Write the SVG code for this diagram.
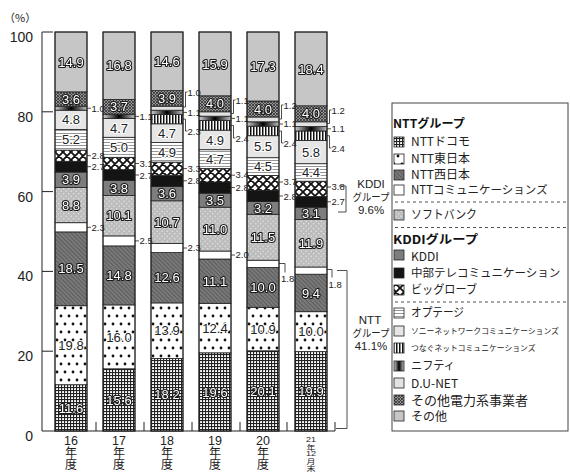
<svg xmlns="http://www.w3.org/2000/svg" width="570" height="472" viewBox="0 0 570 472">
<defs>
<filter id="flat" x="-10%" y="-10%" width="120%" height="120%"><feOffset dx="0" dy="0"/></filter>
<pattern id="pDoc" width="3" height="3" patternUnits="userSpaceOnUse"><rect width="3" height="3" fill="#fff"/><rect width="3" height="1.1" fill="#222"/><rect width="1.1" height="3" fill="#222"/></pattern>
<pattern id="pEast" width="8" height="16" patternUnits="userSpaceOnUse"><rect width="8" height="16" fill="#fff"/><circle cx="2" cy="4" r="1.4" fill="#111"/><circle cx="6" cy="12" r="1.4" fill="#111"/></pattern>
<pattern id="pWest" width="3" height="3" patternUnits="userSpaceOnUse" patternTransform="rotate(45)"><rect width="3" height="3" fill="#7c7c7c"/><rect width="3" height="1.2" fill="#5c5c5c"/></pattern>
<pattern id="pSB" width="5" height="5" patternUnits="userSpaceOnUse"><rect width="5" height="5" fill="#bdbdbd"/><circle cx="1.2" cy="1.2" r="0.8" fill="#e2e2e2"/><circle cx="3.7" cy="3.7" r="0.8" fill="#e2e2e2"/></pattern>
<pattern id="pBig" width="8" height="8" patternUnits="userSpaceOnUse"><rect width="8" height="8" fill="#fff"/><path d="M0,0L8,8M8,0L0,8M-1,7L1,9M7,-1L9,1M-1,1L1,-1M7,9L9,7" stroke="#111" stroke-width="1.8"/></pattern>
<pattern id="pOpt" width="4" height="3" patternUnits="userSpaceOnUse"><rect width="4" height="3" fill="#fff"/><rect y="1" width="4" height="0.9" fill="#8a8a8a"/></pattern>
<pattern id="pTsu" width="3" height="4" patternUnits="userSpaceOnUse"><rect width="3" height="4" fill="#fff"/><rect width="1.5" height="4" fill="#111"/></pattern>
<pattern id="pElec" width="3" height="3" patternUnits="userSpaceOnUse"><rect width="3" height="3" fill="#959595"/><path d="M0,0L3,3M3,0L0,3" stroke="#333" stroke-width="0.8"/></pattern>
<linearGradient id="gNif" x1="0" y1="0" x2="1" y2="0"><stop offset="0" stop-color="#d0d0d0"/><stop offset="0.5" stop-color="#000"/><stop offset="1" stop-color="#c0c0c0"/></linearGradient>
<style>
.s{stroke:#222;stroke-width:0.8}
.ol{fill:none;stroke:#222;stroke-width:1}
.doc{fill:url(#pDoc)}.east{fill:url(#pEast)}.west{fill:url(#pWest)}.com{fill:#fff}.sb{fill:url(#pSB)}
.kd{fill:#7d7d7d}.chu{fill:#141414}.big{fill:url(#pBig)}.opt{fill:url(#pOpt)}.sony{fill:#e6e6e6}
.tsu{fill:url(#pTsu)}.nif{fill:url(#gNif)}.du{fill:#e2e2e2}.elec{fill:url(#pElec)}.oth{fill:#c6c6c6}
.w,.k{font-family:"Liberation Sans Narrow","Liberation Sans",Arial,sans-serif;font-size:13px;text-anchor:middle;paint-order:stroke;stroke-linejoin:round}
.w{fill:#fff;stroke:#1a1a1a;stroke-width:2.2;filter:url(#flat)}
.k{fill:#222;stroke:#fff;stroke-width:2.2}
.sl{font-family:"Liberation Sans Narrow","Liberation Sans",Arial,sans-serif;font-size:9.5px;fill:#222}
.ld{fill:none;stroke:#222;stroke-width:0.8}
.ax{stroke:#222;stroke-width:1;fill:none}
.yl{font-family:"Liberation Sans",Arial,sans-serif;font-size:14px;fill:#222;text-anchor:end}
.xl{font-family:"Liberation Sans",Arial,sans-serif;fill:#222;text-anchor:middle}
.j{font-family:"Noto Sans CJK JP",sans-serif}
.lg{font-family:"Noto Sans CJK JP",sans-serif;fill:#222}
.lgb{font-family:"Noto Sans CJK JP",sans-serif;font-size:12px;font-weight:bold;fill:#111}
.gl{font-family:"Liberation Sans Narrow","Liberation Sans",Arial,sans-serif;font-size:11.5px;fill:#222;text-anchor:middle}
.dash{stroke:#555;stroke-width:1;stroke-dasharray:3,3}
</style>
</defs>
<rect width="570" height="472" fill="#fff"/>

<g id="axes">
<text x="4" y="22" font-family="Noto Sans CJK JP, sans-serif" font-size="11" fill="#222">（%）</text>
<path class="ax" d="M42,32V431H335M42,32H53M42,111.8H53M42,191.6H53M42,271.4H53M42,351.2H53M96,422V431M144,422V431M192,422V431M240,422V431M287,422V431M335,422V431"/>
<text class="yl" x="33" y="42">100</text>
<text class="yl" x="33" y="122">80</text>
<text class="yl" x="33" y="202">60</text>
<text class="yl" x="33" y="281">40</text>
<text class="yl" x="33" y="361">20</text>
<text class="yl" x="33" y="441">0</text>
<text class="xl" y="445" style="font-size:12.5px"><tspan x="71">16</tspan><tspan class="j" x="71" y="457" style="font-size:12px">年</tspan><tspan class="j" x="71" y="469" style="font-size:12px">度</tspan></text>
<text class="xl" y="445" style="font-size:12.5px"><tspan x="119">17</tspan><tspan class="j" x="119" y="457" style="font-size:12px">年</tspan><tspan class="j" x="119" y="469" style="font-size:12px">度</tspan></text>
<text class="xl" y="445" style="font-size:12.5px"><tspan x="167">18</tspan><tspan class="j" x="167" y="457" style="font-size:12px">年</tspan><tspan class="j" x="167" y="469" style="font-size:12px">度</tspan></text>
<text class="xl" y="445" style="font-size:12.5px"><tspan x="215">19</tspan><tspan class="j" x="215" y="457" style="font-size:12px">年</tspan><tspan class="j" x="215" y="469" style="font-size:12px">度</tspan></text>
<text class="xl" y="445" style="font-size:12.5px"><tspan x="263">20</tspan><tspan class="j" x="263" y="457" style="font-size:12px">年</tspan><tspan class="j" x="263" y="469" style="font-size:12px">度</tspan></text>
<g transform="translate(311,0) scale(1,0.8)">
<text class="xl" y="552.5" style="font-size:9px"><tspan x="0">21</tspan><tspan class="j" x="0" y="562">年</tspan><tspan x="0" y="570.6">12</tspan><tspan class="j" x="0" y="579.5">月</tspan><tspan class="j" x="0" y="588.5">末</tspan></text>
</g>
</g>

<g id="bar16" transform="translate(55,0)">
<rect class="s doc" x="0" y="384.7" width="32" height="46.3"/>
<rect class="s east" x="0" y="305.7" width="32" height="79"/>
<rect class="s west" x="0" y="231.9" width="32" height="73.8"/>
<rect class="s com" x="0" y="222.7" width="32" height="9.2"/>
<rect class="s sb" x="0" y="187.6" width="32" height="35.1"/>
<rect class="s kd" x="0" y="172.05" width="32" height="15.55"/>
<rect class="s chu" x="0" y="161.3" width="32" height="10.75"/>
<rect class="s big" x="0" y="150.1" width="32" height="11.2"/>
<rect class="s opt" x="0" y="129.4" width="32" height="20.7"/>
<rect class="s sony" x="0" y="110.2" width="32" height="19.2"/>
<rect class="s nif" x="0" y="106.2" width="32" height="4"/>
<rect class="s elec" x="0" y="91.85" width="32" height="14.35"/>
<rect class="s oth" x="0" y="32" width="32" height="59.85"/>
<rect class="ol" x="0" y="32" width="32" height="399"/>
<text class="w" x="16" y="66.5">14.9</text>
<text class="w" x="16" y="103.6">3.6</text>
<text class="k" x="16" y="124.4">4.8</text>
<text class="k" x="16" y="144.4">5.2</text>
<text class="w" x="16" y="184.4">3.9</text>
<text class="w" x="16" y="209.8">8.8</text>
<text class="w" x="16" y="273.4">18.5</text>
<text class="k" x="16" y="349.8">19.8</text>
<text class="w" x="16" y="412.5">11.6</text>
</g>

<g id="bar17" transform="translate(103,0)">
<rect class="s doc" x="0" y="368.8" width="32" height="62.2"/>
<rect class="s east" x="0" y="304.9" width="32" height="63.9"/>
<rect class="s west" x="0" y="245.9" width="32" height="59"/>
<rect class="s com" x="0" y="235.9" width="32" height="10"/>
<rect class="s sb" x="0" y="195.6" width="32" height="40.3"/>
<rect class="s kd" x="0" y="180.4" width="32" height="15.2"/>
<rect class="s chu" x="0" y="169.7" width="32" height="10.7"/>
<rect class="s big" x="0" y="157.3" width="32" height="12.4"/>
<rect class="s opt" x="0" y="137.3" width="32" height="20"/>
<rect class="s sony" x="0" y="118.6" width="32" height="18.7"/>
<rect class="s nif" x="0" y="114.2" width="32" height="4.4"/>
<rect class="s elec" x="0" y="99.4" width="32" height="14.8"/>
<rect class="s oth" x="0" y="32" width="32" height="67.4"/>
<rect class="ol" x="0" y="32" width="32" height="399"/>
<text class="w" x="16" y="70.3">16.8</text>
<text class="w" x="16" y="111.4">3.7</text>
<text class="k" x="16" y="132.6">4.7</text>
<text class="k" x="16" y="151.9">5.0</text>
<text class="w" x="16" y="192.6">3.8</text>
<text class="w" x="16" y="220.4">10.1</text>
<text class="w" x="16" y="280">14.8</text>
<text class="k" x="16" y="341.5">16.0</text>
<text class="w" x="16" y="404.5">15.6</text>
</g>

<g id="bar18" transform="translate(151,0)">
<rect class="s doc" x="0" y="358.4" width="32" height="72.6"/>
<rect class="s east" x="0" y="302.9" width="32" height="55.5"/>
<rect class="s west" x="0" y="252.6" width="32" height="50.3"/>
<rect class="s com" x="0" y="243.5" width="32" height="9.1"/>
<rect class="s sb" x="0" y="200.8" width="32" height="42.7"/>
<rect class="s kd" x="0" y="186.4" width="32" height="14.4"/>
<rect class="s chu" x="0" y="175.2" width="32" height="11.2"/>
<rect class="s big" x="0" y="162.1" width="32" height="13.1"/>
<rect class="s opt" x="0" y="142.5" width="32" height="19.6"/>
<rect class="s sony" x="0" y="123.8" width="32" height="18.7"/>
<rect class="s tsu" x="0" y="114.6" width="32" height="9.2"/>
<rect class="s nif" x="0" y="110.2" width="32" height="4.4"/>
<rect class="s du" x="0" y="106.2" width="32" height="4"/>
<rect class="s elec" x="0" y="90.65" width="32" height="15.55"/>
<rect class="s oth" x="0" y="32" width="32" height="58.65"/>
<rect class="ol" x="0" y="32" width="32" height="399"/>
<text class="w" x="16" y="65.9">14.6</text>
<text class="w" x="16" y="103">3.9</text>
<text class="k" x="16" y="137.75">4.7</text>
<text class="k" x="16" y="156.9">4.9</text>
<text class="w" x="16" y="198.2">3.6</text>
<text class="w" x="16" y="226.75">10.7</text>
<text class="w" x="16" y="282.35">12.6</text>
<text class="k" x="16" y="335.25">13.9</text>
<text class="w" x="16" y="399.3">18.2</text>
</g>

<g id="bar19" transform="translate(199,0)">
<rect class="s doc" x="0" y="352.8" width="32" height="78.2"/>
<rect class="s east" x="0" y="303.3" width="32" height="49.5"/>
<rect class="s west" x="0" y="259" width="32" height="44.3"/>
<rect class="s com" x="0" y="251.05" width="32" height="7.95"/>
<rect class="s sb" x="0" y="207.2" width="32" height="43.85"/>
<rect class="s kd" x="0" y="193.2" width="32" height="14"/>
<rect class="s chu" x="0" y="182" width="32" height="11.2"/>
<rect class="s big" x="0" y="168.5" width="32" height="13.5"/>
<rect class="s opt" x="0" y="149.7" width="32" height="18.8"/>
<rect class="s sony" x="0" y="130.15" width="32" height="19.55"/>
<rect class="s tsu" x="0" y="120.6" width="32" height="9.55"/>
<rect class="s nif" x="0" y="116.2" width="32" height="4.4"/>
<rect class="s du" x="0" y="111.8" width="32" height="4.4"/>
<rect class="s elec" x="0" y="95.8" width="32" height="16"/>
<rect class="s oth" x="0" y="32" width="32" height="63.8"/>
<rect class="ol" x="0" y="32" width="32" height="399"/>
<text class="w" x="16" y="68.5">15.9</text>
<text class="w" x="16" y="108.4">4.0</text>
<text class="k" x="16" y="144.5">4.9</text>
<text class="k" x="16" y="163.7">4.7</text>
<text class="w" x="16" y="204.8">3.5</text>
<text class="w" x="16" y="233.7">11.0</text>
<text class="w" x="16" y="285.75">11.1</text>
<text class="k" x="16" y="332.65">12.4</text>
<text class="w" x="16" y="396.5">19.6</text>
</g>

<g id="bar20" transform="translate(247,0)">
<rect class="s doc" x="0" y="350.8" width="32" height="80.2"/>
<rect class="s east" x="0" y="307.3" width="32" height="43.5"/>
<rect class="s west" x="0" y="267.4" width="32" height="39.9"/>
<rect class="s com" x="0" y="260.2" width="32" height="7.2"/>
<rect class="s sb" x="0" y="214.3" width="32" height="45.9"/>
<rect class="s kd" x="0" y="201.6" width="32" height="12.7"/>
<rect class="s chu" x="0" y="190.4" width="32" height="11.2"/>
<rect class="s big" x="0" y="175.6" width="32" height="14.8"/>
<rect class="s opt" x="0" y="157.7" width="32" height="17.9"/>
<rect class="s sony" x="0" y="135.7" width="32" height="22"/>
<rect class="s tsu" x="0" y="126.2" width="32" height="9.5"/>
<rect class="s nif" x="0" y="121.8" width="32" height="4.4"/>
<rect class="s du" x="0" y="117" width="32" height="4.8"/>
<rect class="s elec" x="0" y="101" width="32" height="16"/>
<rect class="s oth" x="0" y="32" width="32" height="69"/>
<rect class="ol" x="0" y="32" width="32" height="399"/>
<text class="w" x="16" y="71.1">17.3</text>
<text class="w" x="16" y="113.6">4.0</text>
<text class="k" x="16" y="151.3">5.5</text>
<text class="k" x="16" y="171.25">4.5</text>
<text class="w" x="16" y="212.55">3.2</text>
<text class="w" x="16" y="241.85">11.5</text>
<text class="w" x="16" y="291.95">10.0</text>
<text class="k" x="16" y="333.65">10.9</text>
<text class="w" x="16" y="395.5">20.1</text>
</g>

<g id="bar21" transform="translate(295,0)">
<rect class="s doc" x="0" y="351.6" width="32" height="79.4"/>
<rect class="s east" x="0" y="311.7" width="32" height="39.9"/>
<rect class="s west" x="0" y="274.2" width="32" height="37.5"/>
<rect class="s com" x="0" y="267" width="32" height="7.2"/>
<rect class="s sb" x="0" y="219.5" width="32" height="47.5"/>
<rect class="s kd" x="0" y="207.2" width="32" height="12.3"/>
<rect class="s chu" x="0" y="196.4" width="32" height="10.8"/>
<rect class="s big" x="0" y="181.2" width="32" height="15.2"/>
<rect class="s opt" x="0" y="163.7" width="32" height="17.5"/>
<rect class="s sony" x="0" y="140.5" width="32" height="23.2"/>
<rect class="s tsu" x="0" y="131" width="32" height="9.5"/>
<rect class="s nif" x="0" y="126.6" width="32" height="4.4"/>
<rect class="s du" x="0" y="121.8" width="32" height="4.8"/>
<rect class="s elec" x="0" y="105.8" width="32" height="16"/>
<rect class="s oth" x="0" y="32" width="32" height="73.8"/>
<rect class="ol" x="0" y="32" width="32" height="399"/>
<text class="w" x="16" y="73.5">18.4</text>
<text class="w" x="16" y="118.4">4.0</text>
<text class="k" x="16" y="156.7">5.8</text>
<text class="k" x="16" y="177.05">4.4</text>
<text class="w" x="16" y="217.95">3.1</text>
<text class="w" x="16" y="247.85">11.9</text>
<text class="w" x="16" y="297.55">9.4</text>
<text class="k" x="16" y="336.25">10.0</text>
<text class="w" x="16" y="395.9">19.9</text>
</g>

<g id="connectors">
<path class="ld" d="M87,108.2h4M87,155.7h4M87,166.7h4M87,227.3h4"/>
<path class="ld" d="M135,116.4h4M135,163.5h4M135,175h4M135,240.9h4"/>
<path class="ld" d="M183,107H185.5V92H187.5M183,112.4h4M183,119.2H185.5V131H187.5M183,168.6h4M183,180.8h4M183,248h4"/>
<path class="ld" d="M231,113.5H233.5V100H235.5M231,118.4h4M231,125.4H233.5V138H235.5M231,175.2h4M231,187.6h4M231,255h4"/>
<path class="ld" d="M279,119H281.5V105H283.5M279,124h4M279,131H281.5V143H283.5M279,182h4M279,196h4M279,263.5H285V272.5"/>
<path class="ld" d="M327,123.5H329.5V110H331.5M327,128.8h4M327,135.75H329.5V148H331.5M327,187h4M327,201.8h4M327,269.5H332V277.5"/>
<path class="ld" d="M339,186H346V212H338"/>
<path class="ld" d="M337,270.5H347V428.5H336"/>
</g>

<g id="side-labels">
<text class="sl" x="91.5" y="111.6">1.0</text><text class="sl" x="91.5" y="158.8">2.8</text><text class="sl" x="91.5" y="170.3">2.7</text><text class="sl" x="91.5" y="230.7">2.3</text>
<text class="sl" x="139.5" y="119.8">1.1</text><text class="sl" x="139.5" y="166.6">3.1</text><text class="sl" x="139.5" y="178.6">2.7</text><text class="sl" x="139.5" y="244.3">2.5</text>
<text class="sl" x="187.5" y="96">1.0</text><text class="sl" x="187.5" y="115.8">1.1</text><text class="sl" x="187.5" y="135">2.3</text><text class="sl" x="187.5" y="171.6">3.3</text><text class="sl" x="187.5" y="184.4">2.8</text><text class="sl" x="187.5" y="251.4">2.3</text>
<text class="sl" x="235.5" y="104">1.1</text><text class="sl" x="235.5" y="121.8">1.1</text><text class="sl" x="235.5" y="142">2.4</text><text class="sl" x="235.5" y="178.4">3.4</text><text class="sl" x="235.5" y="191.2">2.8</text><text class="sl" x="235.5" y="258.4">2.0</text>
<text class="sl" x="283.5" y="109">1.2</text><text class="sl" x="283.5" y="127.4">1.1</text><text class="sl" x="283.5" y="147">2.4</text><text class="sl" x="283.5" y="185">3.7</text><text class="sl" x="283.5" y="199.6">2.8</text><text class="sl" x="281" y="282">1.8</text>
<text class="sl" x="331.5" y="114">1.2</text><text class="sl" x="331.5" y="132.2">1.1</text><text class="sl" x="331.5" y="152">2.4</text><text class="sl" x="331.5" y="190">3.8</text><text class="sl" x="331.5" y="205.4">2.7</text><text class="sl" x="328.5" y="288">1.8</text>
</g>

<g id="group-kddi">
<text class="gl" y="188"><tspan x="371">KDDI</tspan><tspan class="j" x="371" y="201" style="font-size:10.5px" textLength="37" lengthAdjust="spacingAndGlyphs">グループ</tspan><tspan x="371" y="214">9.6%</tspan></text>
</g>
<g id="group-ntt">
<text class="gl" y="324"><tspan x="370">NTT</tspan><tspan class="j" x="371" y="337" style="font-size:10.5px" textLength="37" lengthAdjust="spacingAndGlyphs">グループ</tspan><tspan x="371" y="350">41.1%</tspan></text>
</g>

<g id="legend">
<rect x="392" y="103" width="176" height="328" fill="#fff" stroke="#444" stroke-width="1"/>
<text class="lgb" x="393" y="127.5" textLength="72" lengthAdjust="spacingAndGlyphs">NTTグループ</text>
<g id="lg-docomo"><rect class="s doc" x="394" y="137" width="10" height="10"/><text class="lg" x="411" y="146.3" style="font-size:12px">NTTドコモ</text></g>
<g id="lg-east"><rect class="s east" x="394" y="154" width="10" height="10"/><text class="lg" x="411" y="163.3" style="font-size:12px">NTT東日本</text></g>
<g id="lg-west"><rect class="s west" x="394" y="170" width="10" height="10"/><text class="lg" x="411" y="179.3" style="font-size:12px">NTT西日本</text></g>
<g id="lg-com"><rect class="s com" x="394" y="185" width="10" height="10"/><text class="lg" x="411" y="194.3" style="font-size:11.5px">NTTコミュニケーションズ</text></g>
<line class="dash" x1="395" y1="202" x2="566" y2="202"/>
<g id="lg-sb"><rect class="s sb" x="394" y="210" width="10" height="10"/><text class="lg" x="411" y="219.3" style="font-size:12px" textLength="66" lengthAdjust="spacingAndGlyphs">ソフトバンク</text></g>
<line class="dash" x1="395" y1="227.5" x2="566" y2="227.5"/>
<text class="lgb" x="393" y="243.5" textLength="85" lengthAdjust="spacingAndGlyphs">KDDIグループ</text>
<g id="lg-kddi"><rect class="s kd" x="394" y="250" width="10" height="10"/><text class="lg" x="411" y="261" style="font-size:12px">KDDI</text></g>
<g id="lg-chubu"><rect class="s chu" x="394" y="268" width="10" height="10"/><text class="lg" x="411" y="277.3" style="font-size:11.5px">中部テレコミュニケーション</text></g>
<g id="lg-big"><rect class="s big" x="394" y="285" width="10" height="10"/><text class="lg" x="411" y="294.3" style="font-size:12px" textLength="66" lengthAdjust="spacingAndGlyphs">ビッグローブ</text></g>
<line class="dash" x1="395" y1="302" x2="566" y2="302"/>
<g id="lg-opt"><rect class="s opt" x="394" y="308" width="10" height="10"/><text class="lg" x="411" y="317.3" style="font-size:12px" textLength="53" lengthAdjust="spacingAndGlyphs">オプテージ</text></g>
<g id="lg-sony"><rect class="s sony" x="394" y="326" width="10" height="10"/><text class="lg" x="411" y="334.3" style="font-size:7.8px">ソニーネットワークコミュニケーションズ</text></g>
<g id="lg-tsunagu"><rect class="s tsu" x="394" y="343" width="10" height="10"/><text class="lg" x="411" y="351.3" style="font-size:7.8px">つなぐネットコミュニケーションズ</text></g>
<g id="lg-nifty"><rect class="s nif" x="394" y="361" width="10" height="10"/><text class="lg" x="411" y="370.3" style="font-size:12px" textLength="44" lengthAdjust="spacingAndGlyphs">ニフティ</text></g>
<g id="lg-dunet"><rect class="s du" x="394" y="378" width="10" height="10"/><text class="lg" x="411" y="387.8" style="font-size:12px">D.U-NET</text></g>
<g id="lg-elec"><rect class="s elec" x="394" y="395" width="10" height="10"/><text class="lg" x="411" y="404.5" style="font-size:13px">その他電力系事業者</text></g>
<g id="lg-other"><rect class="s oth" x="394" y="411" width="10" height="10"/><text class="lg" x="411" y="420.5" style="font-size:12px">その他</text></g>
</g>
</svg>
